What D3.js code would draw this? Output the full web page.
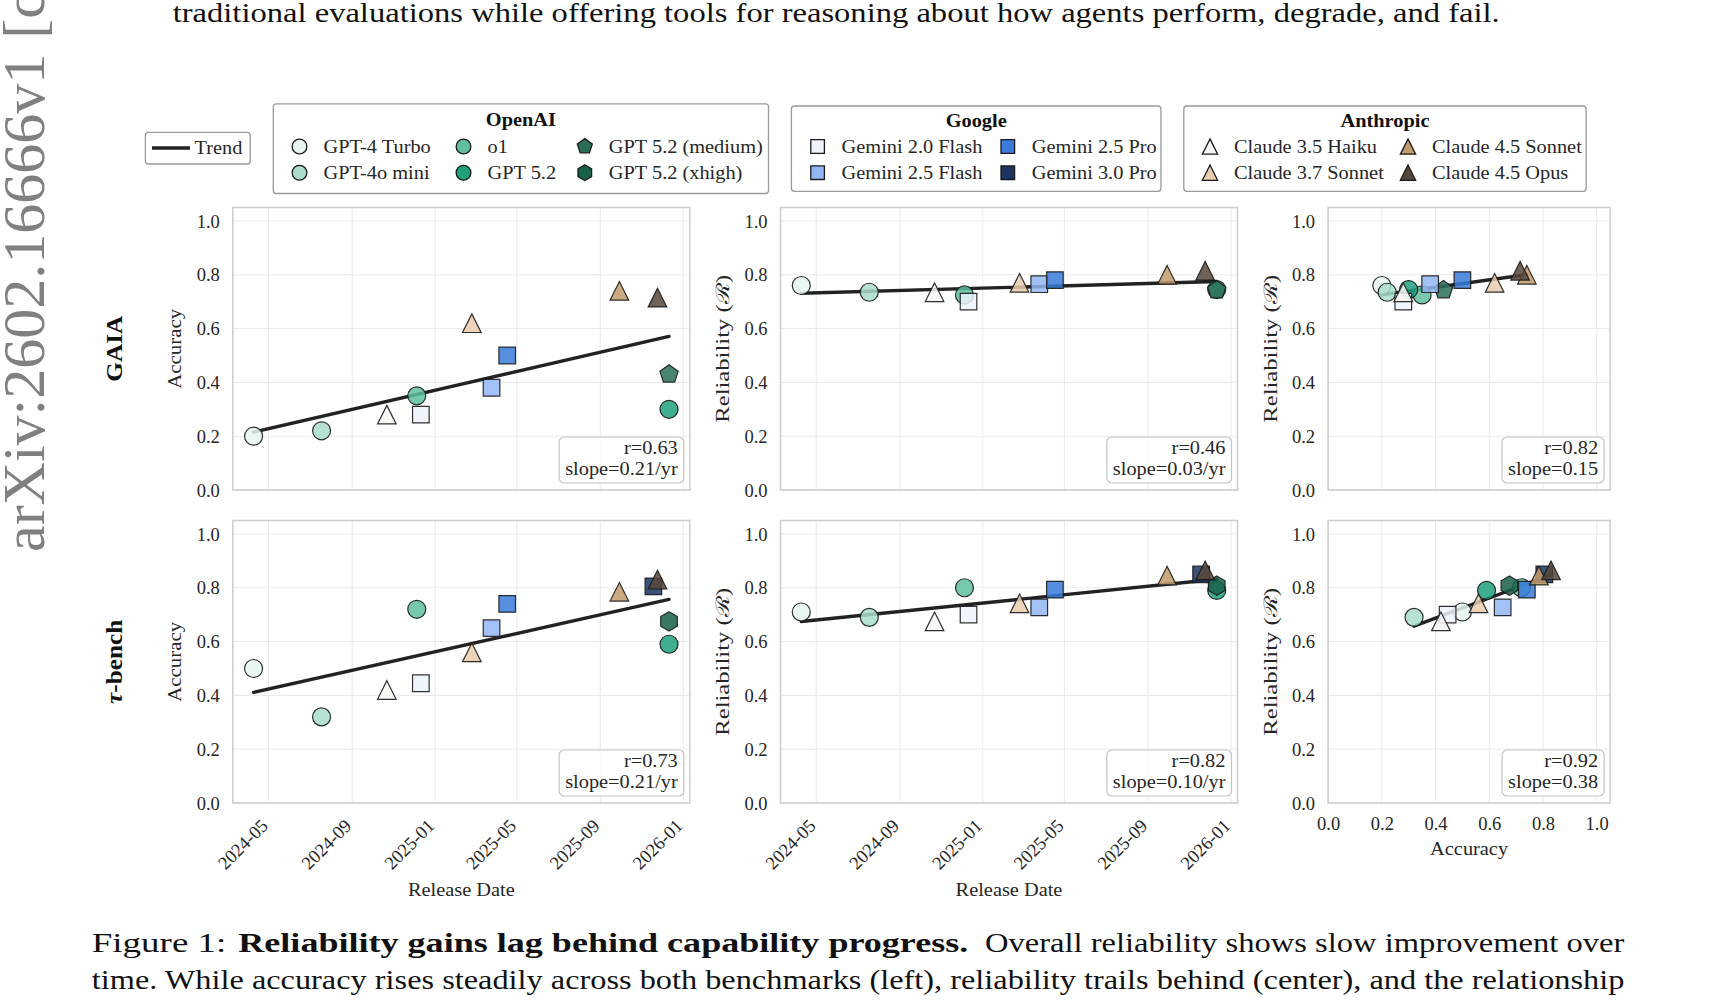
<!DOCTYPE html>
<html lang="en">
<head>
<meta charset="UTF-8">
<title>Reliability gains lag behind capability progress</title>
<style>
  body { margin: 0; background: #fff; }
  svg { display: block; font-family: "Liberation Serif", "DejaVu Serif", serif; }
  .grid-line { stroke: #ebebeb; stroke-width: 1.1; }
  .frame { fill: none; stroke: #cfcfcf; stroke-width: 1.6; }
</style>
</head>
<body>
<script src="https://cdn.jsdelivr.net/npm/d3@7/dist/d3.min.js"></script>
<script>
// ---- data ----
const models = ['GPT-4 Turbo', 'GPT-4o mini', 'o1', 'GPT 5.2', 'GPT 5.2 (medium)', 'GPT 5.2 (xhigh)',
  'Gemini 2.0 Flash', 'Gemini 2.5 Flash', 'Gemini 2.5 Pro', 'Gemini 3.0 Pro',
  'Claude 3.5 Haiku', 'Claude 3.7 Sonnet', 'Claude 4.5 Sonnet', 'Claude 4.5 Opus'];
const providers = ['OpenAI', 'OpenAI', 'OpenAI', 'OpenAI', 'OpenAI', 'OpenAI',
  'Google', 'Google', 'Google', 'Google',
  'Anthropic', 'Anthropic', 'Anthropic', 'Anthropic'];
const shapes = ['circle', 'circle', 'circle', 'circle', 'pentagon', 'hexagon',
  'square', 'square', 'square', 'square',
  'triangle', 'triangle', 'triangle', 'triangle'];
const colors = ['#e6f5ef', '#a8ddc9', '#5ec09f', '#1ea17e', '#2b6e57', '#17604a',
  '#edf2fb', '#92b6f3', '#3a7bdb', '#1b3461',
  '#f7f6f2', '#e7cdae', '#c29b6c', '#57473a'];
const releaseDates = ['2024-04-09', '2024-07-18', '2024-12-05', '2025-12-11', '2025-12-11', '2025-12-11',
  '2024-12-11', '2025-03-25', '2025-04-17', '2025-11-18',
  '2024-10-22', '2025-02-24', '2025-09-29', '2025-11-24'];

const gaiaAcc = [0.20, 0.22, 0.35, 0.30, 0.43, null, 0.28, 0.38, 0.50, null, 0.28, 0.62, 0.74, 0.715];
const gaiaRel = [0.76, 0.735, 0.725, 0.745, 0.743, null, 0.70, 0.765, 0.78, null, 0.735, 0.77, 0.80, 0.815];
const tauAcc = [0.50, 0.32, 0.72, 0.59, null, 0.675, 0.445, 0.65, 0.74, 0.805, 0.42, 0.56, 0.785, 0.83];
const tauRel = [0.71, 0.69, 0.80, 0.79, null, 0.808, 0.70, 0.727, 0.793, 0.85, 0.675, 0.742, 0.845, 0.865];

const statR = ['r=0.63', 'r=0.46', 'r=0.82', 'r=0.73', 'r=0.82', 'r=0.92'];
const statSlope = ['slope=0.21/yr', 'slope=0.03/yr', 'slope=0.15', 'slope=0.21/yr', 'slope=0.10/yr', 'slope=0.38'];

const dateTicks = ['2024-05-01', '2024-09-01', '2025-01-01', '2025-05-01', '2025-09-01', '2026-01-01'];
const unitTicks = [0, 0.2, 0.4, 0.6, 0.8, 1.0];

// ---- layout ----
const W = 1714, H = 1005;
const colLeft = [232.8, 780.5, 1328.1], colWidth = [457, 457, 282];
const rowTop = [207.5, 520.5], rowHeight = 282.5;
const FS = 18.5, STRETCH = 1.1, INK = '#262626';
const SERIF = '"Liberation Serif", "DejaVu Serif", serif';

const svg = d3.select('body').append('svg').attr('width', W).attr('height', H);

const parseDate = d3.timeParse('%Y-%m-%d');
const dates = releaseDates.map(parseDate);
const dExt = d3.extent(dates);
const dPad = (dExt[1] - dExt[0]) * 0.05;
const xDate = d3.scaleTime().domain([new Date(+dExt[0] - dPad), new Date(+dExt[1] + dPad)]);
const fmtDate = d3.timeFormat('%Y-%m');

function markerPath(shape, k = 1) {
  if (shape === 'circle') return d3.symbol(d3.symbolCircle, Math.PI * 81 * k * k)();
  if (shape === 'square') { const h = 8.3 * k; return `M${-h},${-h}H${h}V${h}H${-h}Z`; }
  if (shape === 'triangle') { const h = 9.3 * k; return `M0,${-h}L${h},${h}L${-h},${h}Z`; }
  const n = shape === 'pentagon' ? 5 : 6, R = 9.6 * k;
  return d3.line()(d3.range(n).map(i => {
    const a = -Math.PI / 2 + i * 2 * Math.PI / n;
    return [R * Math.cos(a), R * Math.sin(a)];
  })) + 'Z';
}

const panels = [
  { row: 0, col: 0, kind: 'date', xs: dates, ys: gaiaAcc, ylabel: 'Accuracy', stat: 0 },
  { row: 0, col: 1, kind: 'date', xs: dates, ys: gaiaRel, ylabel: 'Reliability (ℛ)', stat: 1 },
  { row: 0, col: 2, kind: 'unit', xs: gaiaAcc, ys: gaiaRel, ylabel: 'Reliability (ℛ)', stat: 2 },
  { row: 1, col: 0, kind: 'date', xs: dates, ys: tauAcc, ylabel: 'Accuracy', stat: 3 },
  { row: 1, col: 1, kind: 'date', xs: dates, ys: tauRel, ylabel: 'Reliability (ℛ)', stat: 4 },
  { row: 1, col: 2, kind: 'unit', xs: tauAcc, ys: tauRel, ylabel: 'Reliability (ℛ)', stat: 5 }
];

function drawPanel(p) {
  const w = colWidth[p.col], h = rowHeight;
  const g = svg.append('g').attr('transform', `translate(${colLeft[p.col]},${rowTop[p.row]})`);
  const y = d3.scaleLinear().domain([0, 1.05]).range([h, 0]);
  const x = p.kind === 'date' ? xDate.copy().range([0, w]) : d3.scaleLinear().domain([0, 1.05]).range([0, w]);
  const xt = p.kind === 'date' ? dateTicks.map(parseDate) : unitTicks;

  g.append('g').selectAll('line').data(xt).join('line').attr('class', 'grid-line')
    .attr('x1', d => x(d)).attr('x2', d => x(d)).attr('y1', 0).attr('y2', h);
  g.append('g').selectAll('line').data(unitTicks).join('line').attr('class', 'grid-line')
    .attr('x1', 0).attr('x2', w).attr('y1', d => y(d)).attr('y2', d => y(d));

  // y axis
  g.append('g')
    .call(d3.axisLeft(y).tickValues(unitTicks).tickFormat(d3.format('.1f')).tickSize(0).tickPadding(13))
    .attr('font-family', null).attr('font-size', FS)
    .call(a => a.select('.domain').remove())
    .selectAll('text').attr('fill', INK).attr('dy', '0.33em');

  g.append('text')
    .attr('transform', `translate(-58,${h / 2}) rotate(-90)`)
    .attr('text-anchor', 'middle').attr('dy', '0.35em')
    .attr('font-size', FS).attr('fill', INK)
    .attr('textLength', p.ylabel === 'Accuracy' ? 80 : 148).attr('lengthAdjust', 'spacingAndGlyphs')
    .text(p.ylabel);

  // x axis only on the bottom row
  if (p.row === 1) {
    if (p.kind === 'date') {
      g.append('g').attr('transform', `translate(0,${h})`)
        .call(d3.axisBottom(x).tickValues(xt).tickFormat(fmtDate).tickSize(0))
        .attr('font-family', null).attr('font-size', FS)
        .call(a => a.select('.domain').remove())
        .selectAll('text').attr('fill', INK).attr('text-anchor', 'end')
        .attr('x', 0).attr('y', 0).attr('dy', 0)
        .attr('transform', 'translate(0,24) rotate(-45)');
      g.append('text').attr('class', 'cm').attr('x', w / 2).attr('y', h + 93)
        .attr('text-anchor', 'middle').attr('font-size', FS).attr('fill', INK).text('Release Date');
    } else {
      g.append('g').attr('transform', `translate(0,${h})`)
        .call(d3.axisBottom(x).tickValues(unitTicks).tickFormat(d3.format('.1f')).tickSize(0).tickPadding(14))
        .attr('font-family', null).attr('font-size', FS)
        .call(a => a.select('.domain').remove())
        .selectAll('text').attr('fill', INK);
      g.append('text').attr('class', 'cm').attr('x', w / 2).attr('y', h + 52)
        .attr('text-anchor', 'middle').attr('font-size', FS).attr('fill', INK).text('Accuracy');
    }
  }

  const pts = models.map((m, i) => ({ i, xv: p.xs[i], yv: p.ys[i] }))
    .filter(d => d.xv != null && d.yv != null);

  // least-squares trend
  const tx = d => p.kind === 'date' ? +d / (365.25 * 864e5) : d;
  const mx = d3.mean(pts, d => tx(d.xv)), my = d3.mean(pts, d => d.yv);
  const slope = d3.sum(pts, d => (tx(d.xv) - mx) * (d.yv - my)) / d3.sum(pts, d => (tx(d.xv) - mx) ** 2);
  const ends = d3.extent(pts, d => d.xv);
  g.append('path')
    .attr('d', d3.line()(ends.map(v => [x(v), y(my + slope * (tx(v) - mx))])))
    .attr('stroke', '#222').attr('stroke-width', 3.4).attr('stroke-linecap', 'round').attr('fill', 'none');

  g.append('g').selectAll('path').data(pts).join('path')
    .attr('transform', d => `translate(${x(d.xv)},${y(d.yv)})`)
    .attr('d', d => markerPath(shapes[d.i]))
    .attr('fill', d => colors[d.i]).attr('fill-opacity', 0.85)
    .attr('stroke', '#1a1a1a').attr('stroke-width', 1.2).attr('stroke-opacity', 0.9);

  g.append('rect').attr('class', 'frame').attr('width', w).attr('height', h);

  // stats box
  const sb = g.append('g');
  const right = w - 12, base2 = h - 15;
  const t1 = sb.append('text').attr('class', 'cm').attr('x', right).attr('y', base2 - 21.5)
    .attr('text-anchor', 'end').attr('font-size', FS).attr('fill', INK).text(statR[p.stat]);
  const t2 = sb.append('text').attr('class', 'cm').attr('x', right).attr('y', base2)
    .attr('text-anchor', 'end').attr('font-size', FS).attr('fill', INK).text(statSlope[p.stat]);
  p.statBox = { sb, right, base2, texts: [t1, t2] };
}

panels.forEach(drawPanel);

// row labels
const rowNames = [['GAIA'], ['τ', '-bench']];
rowNames.forEach((parts, r) => {
  const t = svg.append('text').attr('class', 'cm')
    .attr('transform', `translate(113.7,${rowTop[r] + rowHeight / 2}) rotate(-90)`)
    .attr('text-anchor', 'middle').attr('dy', '0.35em')
    .attr('font-size', 23).attr('font-weight', 'bold').attr('fill', '#111');
  parts.forEach(s => t.append('tspan').attr('font-style', s === 'τ' ? 'italic' : null).text(s));
});

// ---- legends ----
function legendBox(x0, y0, x1, y1) {
  svg.append('rect').attr('x', x0).attr('y', y0).attr('width', x1 - x0).attr('height', y1 - y0)
    .attr('rx', 3).attr('fill', '#fff').attr('stroke', '#9a9a9a').attr('stroke-width', 1.3);
}
legendBox(145.4, 132.3, 250.3, 164);
svg.append('line').attr('x1', 152).attr('x2', 190).attr('y1', 148).attr('y2', 148)
  .attr('stroke', '#222').attr('stroke-width', 3.4);
svg.append('text').attr('class', 'cm').attr('x', 194.6).attr('y', 154).attr('font-size', FS).attr('fill', INK).text('Trend');

const legendLayout = [
  { name: 'OpenAI', box: [273.3, 103.8, 768.5, 193.5], cols: [299.5, 463.5, 584.8], rows: [146.5, 172.7], titleY: 125.5 },
  { name: 'Google', box: [791.4, 106, 1160.9, 191.3], cols: [817.6, 1007.8], rows: [146.5, 172.7], titleY: 126.5 },
  { name: 'Anthropic', box: [1183.8, 106, 1586.1, 191.3], cols: [1210, 1408], rows: [146.5, 172.7], titleY: 126.5 }
];
legendLayout.forEach(L => {
  legendBox(...L.box);
  svg.append('text').attr('class', 'cm').attr('x', (L.box[0] + L.box[2]) / 2).attr('y', L.titleY)
    .attr('text-anchor', 'middle').attr('font-size', FS).attr('font-weight', 'bold').attr('fill', '#111').text(L.name);
  const idx = models.map((m, i) => i).filter(i => providers[i] === L.name);
  idx.forEach((i, k) => {
    const cx = L.cols[Math.floor(k / 2)], cy = L.rows[k % 2];
    svg.append('path').attr('transform', `translate(${cx},${cy})`)
      .attr('d', markerPath(shapes[i], 0.82)).attr('fill', colors[i])
      .attr('stroke', '#1a1a1a').attr('stroke-width', 1.3);
    svg.append('text').attr('class', 'cm').attr('x', cx + 24).attr('y', cy + 6)
      .attr('font-size', FS).attr('fill', INK).text(models[i]);
  });
});

// ---- page text around the figure ----
function fitText(x, y, w, size, weight, s) {
  svg.append('text').attr('x', x).attr('y', y).attr('font-family', SERIF)
    .attr('font-size', size).attr('font-weight', weight)
    .attr('fill', '#111').attr('textLength', w).attr('lengthAdjust', 'spacingAndGlyphs').text(s);
}
fitText(172.7, 22, 1327, 27, 'normal', 'traditional evaluations while offering tools for reasoning about how agents perform, degrade, and fail.');
fitText(91.8, 952, 134.5, 27, 'normal', 'Figure 1:');
fitText(238.3, 952, 730, 27, 'bold', 'Reliability gains lag behind capability progress.');
fitText(984.9, 952, 639.5, 27, 'normal', 'Overall reliability shows slow improvement over');
fitText(91.8, 989, 1532.6, 27, 'normal', 'time. While accuracy rises steadily across both benchmarks (left), reliability trails behind (center), and the relationship');

svg.append('text').attr('transform', 'translate(44,552) rotate(-90)')
  .attr('font-family', SERIF).attr('font-size', 60).attr('fill', '#808080')
  .text('arXiv:2602.16666v1  [cs.AI]');

// widen serif text toward Computer Modern proportions
svg.selectAll('text.cm').each(function () {
  const wd = this.getComputedTextLength();
  d3.select(this).attr('textLength', wd * STRETCH).attr('lengthAdjust', 'spacingAndGlyphs');
});

// stats boxes sized to their text
panels.forEach(p => {
  const { sb, right, base2, texts } = p.statBox;
  const wBox = d3.max(texts, t => +t.attr('textLength')) + 12;
  sb.insert('rect', 'text')
    .attr('x', right + 6 - wBox).attr('y', base2 + 8 - 46)
    .attr('width', wBox).attr('height', 46).attr('rx', 5)
    .attr('fill', '#fff').attr('fill-opacity', 0.8).attr('stroke', '#c4c4c4').attr('stroke-width', 1.2);
});
</script>
</body>
</html>
